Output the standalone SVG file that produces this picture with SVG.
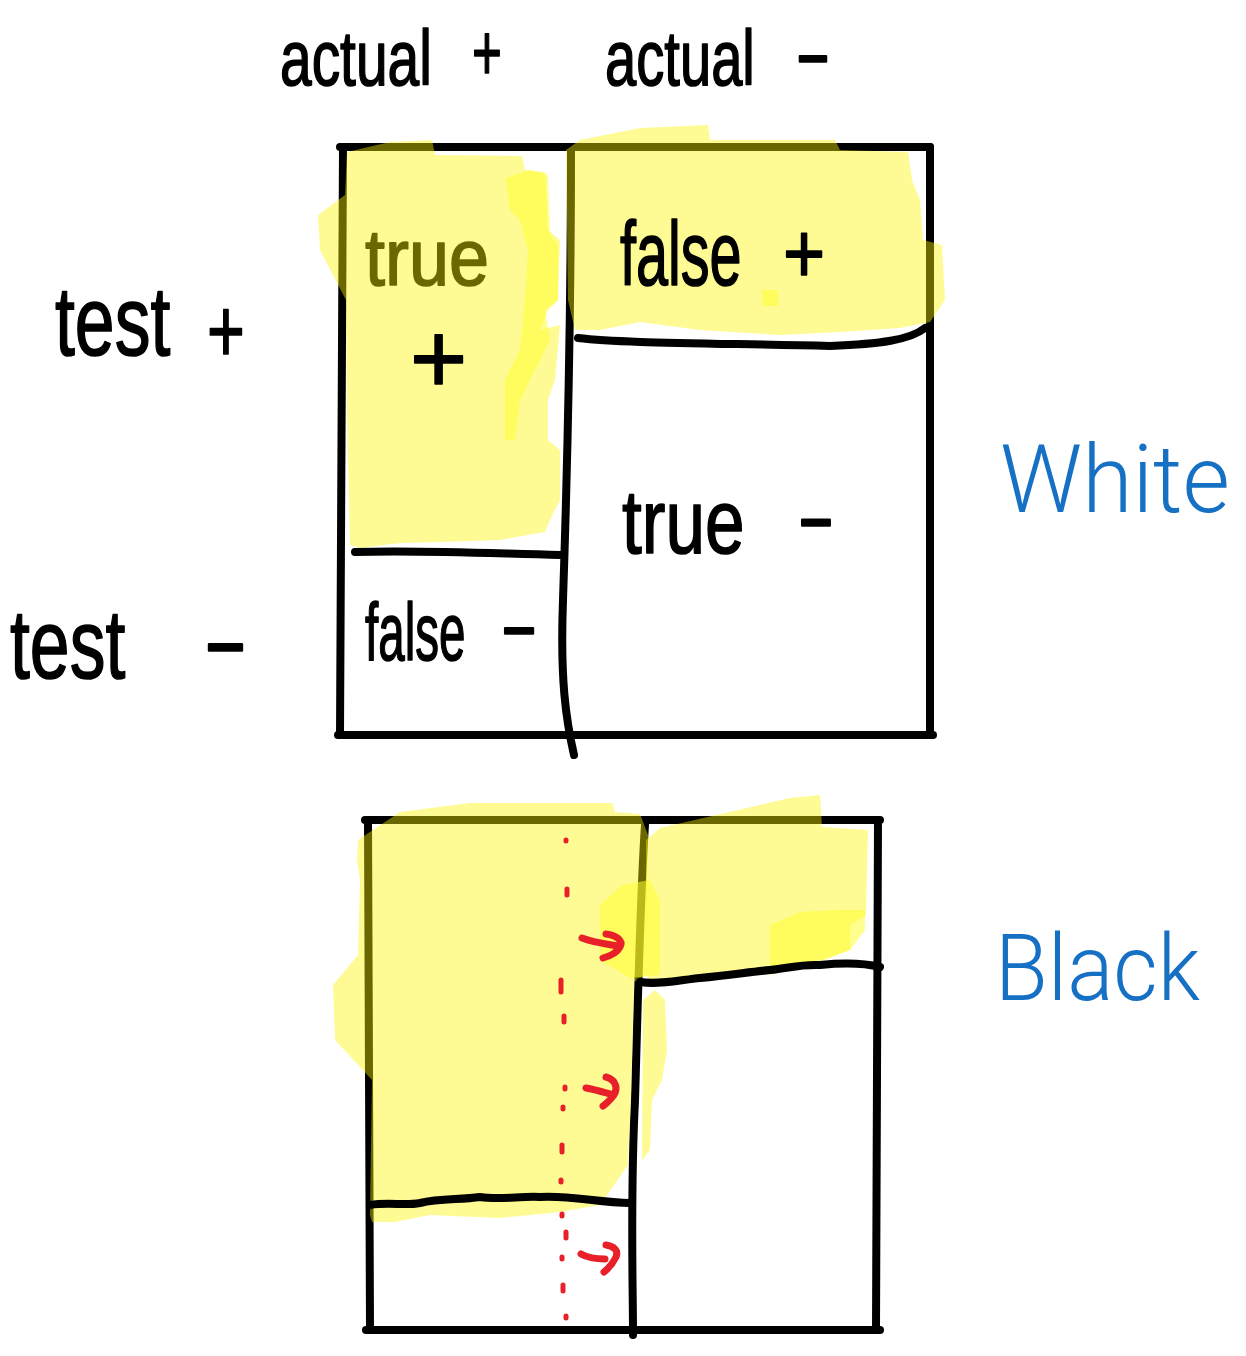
<svg xmlns="http://www.w3.org/2000/svg" width="1246" height="1356" viewBox="0 0 1246 1356">
<style>
.ln{fill:none;stroke:#000;stroke-width:8;stroke-linecap:round;stroke-linejoin:round}
.hl{fill:rgb(255,245,0);opacity:0.42}
.hb{fill:#ffff30;opacity:0.55}
.t{font-family:"Liberation Sans",Arial,sans-serif;fill:#000;stroke:#000;stroke-width:1.6;stroke-linejoin:round}
.b{font-family:Roboto,"DejaVu Sans",sans-serif;font-weight:300;fill:#1670c4}
.rd{fill:none;stroke:#e8202a;stroke-width:5;stroke-linecap:round}
.ra{fill:none;stroke:#e8202a;stroke-width:7;stroke-linecap:round;stroke-linejoin:round}
</style>
<rect width="1246" height="1356" fill="#fff"/>

<g id="label-actual-pos">
<text class="t" transform="translate(280 85) scale(0.73 1)" font-size="78">actual</text>
<text class="t" transform="translate(472 80) scale(0.64 1)" font-size="80">+</text>
</g>
<g id="label-actual-neg">
<text class="t" transform="translate(605 85) scale(0.72 1)" font-size="78">actual</text>
<text class="t" transform="translate(795 80) scale(1.35 1)" font-size="80">-</text>
</g>
<g id="label-test-pos">
<text class="t" transform="translate(55 355) scale(0.73 1)" font-size="98">test</text>
<text class="t" transform="translate(207 362) scale(0.72 1)" font-size="90">+</text>
</g>
<g id="label-test-neg">
<text class="t" transform="translate(10 678) scale(0.73 1)" font-size="98">test</text>
<text class="t" transform="translate(203 672) scale(1.5 1)" font-size="90">-</text>
</g>
<g id="label-white">
<text class="b" x="1000" y="512" font-size="94" textLength="230" lengthAdjust="spacingAndGlyphs">White</text>
</g>
<g id="label-black">
<text class="b" x="995" y="1000" font-size="92" textLength="205" lengthAdjust="spacingAndGlyphs">Black</text>
</g>

<g id="white-matrix">
<g id="white-frame">
<path class="ln" d="M340,147 L930,147"/>
<path class="ln" d="M338,735 L933,735"/>
<path class="ln" d="M343,147 L340,735"/>
<path class="ln" d="M930,147 L930,735"/>
<path class="ln" d="M571,150 C571,300 568,450 563,600 C560,680 566,720 574,755"/>
</g>
<g id="white-true-pos">
<text class="t" transform="translate(365 285) scale(0.9 1)" font-size="80">true</text>
</g>
<polygon class="hl" points="347,152 390,142 432,140 435,155 522,156 525,170 545,172 548,230 560,240 558,300 548,310 540,330 560,325 555,380 548,400 548,440 560,450 560,500 550,520 545,532 500,540 440,542 400,543 360,548 350,545 347,420 346,300 320,250 318,215 345,195"/>
<polygon class="hl" points="566,150 580,140 640,128 708,125 710,140 760,140 835,140 840,150 908,152 912,180 920,200 923,240 942,245 945,300 930,322 900,328 840,332 780,335 700,330 640,322 600,330 575,330 568,300"/>
<polygon class="hb" points="505,178 530,170 548,175 550,235 558,245 558,300 545,310 550,340 540,360 530,380 520,400 515,440 505,440 505,380 520,350 525,300 528,250 520,220 510,210"/>
<polygon class="hb" points="762,290 778,290 778,306 762,306"/>
<g id="white-true-pos-sign">
<text class="t" transform="translate(410 393) scale(0.98 1)" font-size="100">+</text>
</g>
<g id="white-false-pos">
<text class="t" transform="translate(620 285) scale(0.64 1)" font-size="90">false</text>
<text class="t" transform="translate(783 283) scale(0.84 1)" font-size="86">+</text>
</g>
<g id="white-false-neg">
<path class="ln" d="M355,552 C420,550 480,553 560,555"/>
<text class="t" transform="translate(365 660) scale(0.58 1)" font-size="82">false</text>
<text class="t" transform="translate(500 652) scale(1.43 1)" font-size="80">-</text>
</g>
<g id="white-true-neg">
<path class="ln" d="M578,338 C620,343 700,343 830,346 C880,344 910,340 925,328"/>
<text class="t" transform="translate(622 553) scale(0.79 1)" font-size="90">true</text>
<text class="t" transform="translate(797 545) scale(1.34 1)" font-size="85">-</text>
</g>
</g>

<g id="black-matrix">
<g id="black-frame">
<path class="ln" d="M365,820 L880,820"/>
<path class="ln" d="M366,1330 L880,1330"/>
<path class="ln" d="M368,820 L370,1330"/>
<path class="ln" d="M878,820 L876,1330"/>
<path class="ln" d="M645,825 C640,900 638,1000 635,1100 C630,1200 633,1280 633,1335"/>
</g>
<polygon class="hl" points="358,840 400,812 470,803 612,803 615,812 640,814 648,835 646,975 634,982 631,1100 628,1165 600,1205 560,1212 500,1218 430,1215 395,1222 372,1222 370,1215 372,1080 335,1040 333,985 358,955 360,880 357,860"/>
<polygon class="hl" points="643,1000 655,990 665,1000 667,1050 662,1080 652,1100 650,1150 642,1160"/>
<polygon class="hl" points="646,840 660,828 790,798 820,795 822,827 868,830 866,915 850,925 850,950 820,962 760,970 700,976 650,980 646,975"/>
<polygon class="hb" points="600,905 622,885 650,880 660,900 660,975 630,978 600,960"/>
<polygon class="hb" points="770,925 800,912 835,910 865,910 865,930 850,950 820,960 780,972 770,975"/>
<g id="black-upper-right">
<path class="ln" d="M640,982 C660,985 680,980 700,978 C730,975 750,972 770,970 C790,968 800,964 820,965 C840,963 860,962 880,967"/>
</g>
<g id="black-lower-left">
<path class="ln" d="M370,1205 C390,1202 405,1206 420,1203 C440,1198 460,1200 480,1197 C500,1200 520,1196 540,1197 C570,1195 600,1203 630,1203"/>
</g>
</g>

<g id="connectors">
<path class="rd" d="M566,840 L566,841 M567,889 L567,895 M561,980 L561,992 M564,1016 L564,1022 M565,1087 L565,1089 M563,1107 L563,1109 M562,1145 L562,1152 M561,1180 L561,1182 M562,1214 L562,1216 M566,1232 L566,1238 M562,1257 L562,1259 M563,1285 L563,1291 M566,1316 L566,1318"/>
<path class="ra" d="M582,938 C595,943 607,944 618,946 M606,934 C615,935 624,940 620,947 C617,953 610,956 603,958"/>
<path class="ra" d="M586,1088 C597,1090 606,1093 614,1095 M606,1077 C614,1079 618,1086 615,1093 C612,1099 608,1102 603,1106"/>
<path class="ra" d="M581,1254 C588,1258 596,1259 605,1259 M606,1245 C613,1246 619,1250 616,1257 C613,1263 609,1268 604,1272"/>
</g>
</svg>
